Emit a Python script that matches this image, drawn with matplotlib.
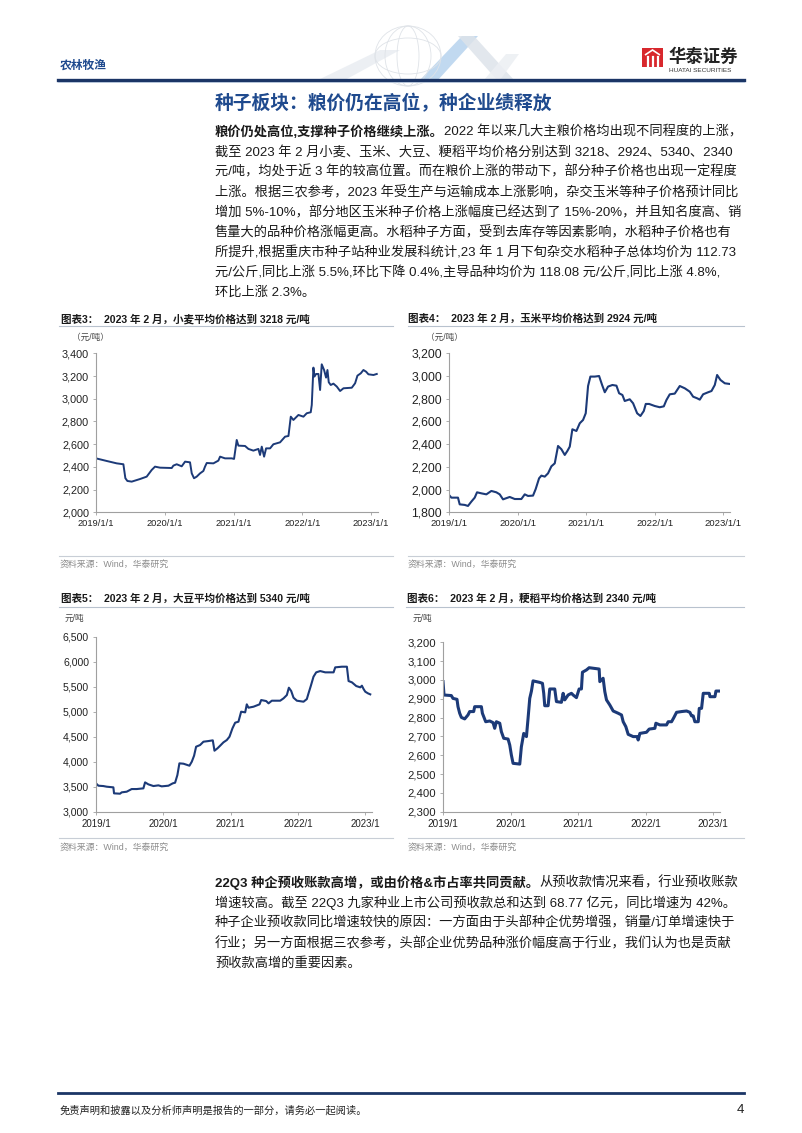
import matplotlib
matplotlib.use('Agg')
import matplotlib.pyplot as plt
from matplotlib.patches import Rectangle, Polygon, Ellipse
from matplotlib.lines import Line2D
from matplotlib.ticker import FuncFormatter

# ---------------- data ----------------
years = [2019, 2020, 2021, 2022, 2023]
xlabels_full = ['2019/1/1', '2020/1/1', '2021/1/1', '2022/1/1', '2023/1/1']
xlabels_short = ['2019/1', '2020/1', '2021/1', '2022/1', '2023/1']

wheat_t = [2019.000, 2019.155, 2019.301, 2019.398, 2019.427, 2019.456, 2019.519, 2019.640, 2019.737,
           2019.810, 2019.858, 2019.931, 2020.101, 2020.125, 2020.173, 2020.246, 2020.295, 2020.367,
           2020.392, 2020.425, 2020.464, 2020.513, 2020.561, 2020.585, 2020.610, 2020.707, 2020.779,
           2020.804, 2020.876, 2020.973, 2021.007, 2021.036, 2021.046, 2021.070, 2021.167, 2021.216,
           2021.288, 2021.361, 2021.385, 2021.410, 2021.444, 2021.473, 2021.531, 2021.579, 2021.676,
           2021.749, 2021.798, 2021.832, 2021.870, 2021.943, 2022.016, 2022.064, 2022.122, 2022.137,
           2022.161, 2022.176, 2022.200, 2022.234, 2022.258, 2022.282, 2022.316, 2022.345, 2022.365,
           2022.384, 2022.413, 2022.452, 2022.501, 2022.549, 2022.598, 2022.719, 2022.767, 2022.801,
           2022.850, 2022.888, 2022.927, 2022.961, 2023.034, 2023.082]
wheat_v = [2475, 2452, 2431, 2423, 2300, 2276, 2270, 2293, 2314,
           2373, 2402, 2393, 2390, 2411, 2423, 2405, 2446, 2440,
           2343, 2300, 2314, 2343, 2364, 2402, 2434, 2431, 2455,
           2490, 2475, 2475, 2470, 2593, 2637, 2587, 2584, 2558,
           2543, 2558, 2505, 2578, 2490, 2563, 2563, 2599, 2616,
           2666, 2672, 2842, 2813, 2857, 2842, 2872, 2881, 2945,
           3274, 3195, 3218, 3218, 3077, 3303, 3253, 3186, 3253,
           3145, 3121, 3133, 3107, 3068, 3092, 3097, 3136, 3203,
           3224, 3253, 3238, 3215, 3209, 3218]

corn_t = [2019.000, 2019.034, 2019.131, 2019.156, 2019.229, 2019.277, 2019.326, 2019.375, 2019.409,
          2019.472, 2019.545, 2019.618, 2019.691, 2019.740, 2019.788, 2019.886, 2019.959, 2020.056,
          2020.105, 2020.153, 2020.226, 2020.265, 2020.314, 2020.348, 2020.397, 2020.445, 2020.494,
          2020.543, 2020.591, 2020.640, 2020.689, 2020.727, 2020.762, 2020.800, 2020.859, 2020.908,
          2020.956, 2020.995, 2021.029, 2021.063, 2021.127, 2021.190, 2021.234, 2021.273, 2021.321,
          2021.384, 2021.443, 2021.482, 2021.530, 2021.564, 2021.637, 2021.686, 2021.745, 2021.793,
          2021.842, 2021.871, 2021.920, 2022.002, 2022.075, 2022.134, 2022.173, 2022.221, 2022.294,
          2022.367, 2022.440, 2022.513, 2022.562, 2022.620, 2022.659, 2022.708, 2022.781, 2022.830,
          2022.878, 2022.912, 2022.961, 2023.024, 2023.097]
corn_v = [1953, 1929, 1929, 1870, 1865, 1856, 1894, 1929, 1976,
          1967, 1958, 1988, 1976, 1958, 1914, 1935, 1917, 1917,
          1958, 1944, 1947, 2005, 2099, 2123, 2114, 2143, 2205,
          2231, 2384, 2355, 2305, 2340, 2378, 2531, 2516, 2584,
          2613, 2672, 2912, 2995, 2995, 3000, 2921, 2857, 2907,
          2921, 2915, 2848, 2833, 2780, 2795, 2760, 2672, 2648,
          2692, 2754, 2754, 2736, 2725, 2733, 2789, 2839, 2845,
          2912, 2892, 2862, 2818, 2804, 2792, 2839, 2857, 2868,
          2921, 3009, 2965, 2936, 2930]

soy_t = [2019.000, 2019.035, 2019.109, 2019.159, 2019.258, 2019.268, 2019.357, 2019.382, 2019.456,
         2019.530, 2019.605, 2019.704, 2019.729, 2019.778, 2019.853, 2019.927, 2019.976, 2020.076,
         2020.140, 2020.175, 2020.209, 2020.239, 2020.299, 2020.388, 2020.423, 2020.457, 2020.487,
         2020.546, 2020.596, 2020.670, 2020.735, 2020.760, 2020.804, 2020.844, 2020.893, 2020.943,
         2020.983, 2021.027, 2021.067, 2021.116, 2021.156, 2021.216, 2021.240, 2021.265, 2021.340,
         2021.429, 2021.454, 2021.528, 2021.563, 2021.612, 2021.736, 2021.786, 2021.835, 2021.865,
         2021.900, 2021.934, 2021.984, 2022.083, 2022.132, 2022.157, 2022.192, 2022.231, 2022.271,
         2022.331, 2022.405, 2022.529, 2022.554, 2022.653, 2022.727, 2022.752, 2022.802, 2022.866,
         2022.926, 2022.950, 2022.975, 2023.000, 2023.040, 2023.074]
soy_v = [3567, 3520, 3513, 3500, 3487, 3367, 3360, 3387, 3400,
         3453, 3453, 3467, 3587, 3547, 3513, 3527, 3507, 3520,
         3567, 3580, 3733, 3967, 3960, 3920, 4000, 4120, 4300,
         4333, 4400, 4413, 4427, 4220, 4267, 4320, 4387, 4433,
         4500, 4667, 4780, 4800, 5000, 4987, 5147, 5080, 5100,
         5147, 5233, 5213, 5167, 5220, 5220, 5267, 5333, 5480,
         5413, 5280, 5220, 5200, 5253, 5367, 5520, 5700, 5787,
         5813, 5787, 5787, 5887, 5900, 5900, 5613, 5587, 5513,
         5487, 5520, 5453, 5400, 5367, 5347]

rice_t = [2019.000, 2019.015, 2019.123, 2019.148, 2019.207, 2019.222, 2019.247, 2019.272, 2019.321,
          2019.370, 2019.395, 2019.454, 2019.469, 2019.568, 2019.583, 2019.632, 2019.691, 2019.741,
          2019.765, 2019.790, 2019.840, 2019.864, 2019.899, 2019.963, 2019.988, 2020.012, 2020.037,
          2020.136, 2020.160, 2020.195, 2020.235, 2020.259, 2020.284, 2020.309, 2020.333, 2020.432,
          2020.472, 2020.491, 2020.506, 2020.556, 2020.580, 2020.654, 2020.679, 2020.753, 2020.778,
          2020.802, 2020.852, 2020.901, 2020.926, 2020.975, 2021.015, 2021.049, 2021.064, 2021.123,
          2021.163, 2021.311, 2021.321, 2021.370, 2021.395, 2021.420, 2021.469, 2021.519, 2021.593,
          2021.642, 2021.667, 2021.706, 2021.741, 2021.815, 2021.874, 2021.889, 2021.914, 2022.012,
          2022.052, 2022.136, 2022.151, 2022.210, 2022.309, 2022.333, 2022.383, 2022.417, 2022.457,
          2022.531, 2022.605, 2022.654, 2022.679, 2022.704, 2022.728, 2022.778, 2022.793, 2022.827,
          2022.852, 2022.941, 2022.951, 2023.025, 2023.040, 2023.099]
rice_v = [2991, 2920, 2917, 2902, 2897, 2858, 2823, 2801, 2793,
          2814, 2832, 2832, 2858, 2858, 2823, 2778, 2782, 2773,
          2743, 2778, 2770, 2725, 2690, 2686, 2654, 2601, 2557,
          2553, 2645, 2716, 2699, 2796, 2902, 2941, 2995, 2987,
          2982, 2929, 2863, 2863, 2952, 2952, 2885, 2881, 2929,
          2894, 2920, 2929, 2920, 2906, 2952, 2952, 3041, 3053,
          3065, 3058, 2991, 3009, 2938, 2894, 2867, 2835, 2823,
          2814, 2778, 2752, 2711, 2699, 2699, 2681, 2716, 2722,
          2739, 2743, 2770, 2761, 2761, 2778, 2778, 2800, 2828,
          2832, 2835, 2828, 2809, 2809, 2778, 2778, 2849, 2849,
          2929, 2929, 2911, 2911, 2941, 2941]

wheat_yticks = [2000, 2200, 2400, 2600, 2800, 3000, 3200, 3400]
corn_yticks = [1800, 2000, 2200, 2400, 2600, 2800, 3000, 3200]
soy_yticks = [3000, 3500, 4000, 4500, 5000, 5500, 6000, 6500]
rice_yticks = [2300, 2400, 2500, 2600, 2700, 2800, 2900, 3000, 3100, 3200]

chart_titles = ['图表3：  2023 年 2 月，小麦平均价格达到 3218 元/吨',
                '图表4：  2023 年 2 月，玉米平均价格达到 2924 元/吨',
                '图表5：  2023 年 2 月，大豆平均价格达到 5340 元/吨',
                '图表6：  2023 年 2 月，粳稻平均价格达到 2340 元/吨']
unit_labels = ['（元/吨）', '（元/吨）', '元/吨', '元/吨']
source_text = '资料来源：Wind，华泰研究'

para1_bold = '粮价仍处高位,支撑种子价格继续上涨。'
para1_lines = [
    '2022 年以来几大主粮价格均出现不同程度的上涨，',
    '截至 2023 年 2 月小麦、玉米、大豆、粳稻平均价格分别达到 3218、2924、5340、2340',
    '元/吨，均处于近 3 年的较高位置。而在粮价上涨的带动下，部分种子价格也出现一定程度',
    '上涨。根据三农参考，2023 年受生产与运输成本上涨影响，杂交玉米等种子价格预计同比',
    '增加 5%-10%，部分地区玉米种子价格上涨幅度已经达到了 15%-20%，并且知名度高、销',
    '售量大的品种价格涨幅更高。水稻种子方面，受到去库存等因素影响，水稻种子价格也有',
    '所提升,根据重庆市种子站种业发展科统计,23 年 1 月下旬杂交水稻种子总体均价为 112.73',
    '元/公斤,同比上涨 5.5%,环比下降 0.4%,主导品种均价为 118.08 元/公斤,同比上涨 4.8%,',
    '环比上涨 2.3%。',
]
para2_bold = '22Q3 种企预收账款高增，或由价格&市占率共同贡献。'
para2_lines = [
    '从预收款情况来看，行业预收账款',
    '增速较高。截至 22Q3 九家种业上市公司预收款总和达到 68.77 亿元，同比增速为 42%。',
    '种子企业预收款同比增速较快的原因：一方面由于头部种企优势增强，销量/订单增速快于',
    '行业；另一方面根据三农参考，头部企业优势品种涨价幅度高于行业，我们认为也是贡献',
    '预收款高增的重要因素。',
]

# ---------------- figure ----------------
W, H = 802, 1133
plt.rcParams['font.family'] = ['Liberation Sans', 'Noto Sans CJK SC', 'DejaVu Sans']
fig = plt.figure(figsize=(W / 100, H / 100), dpi=100)
fig.patch.set_facecolor('white')

BLUE = '#1f4a8e'
NAVY = '#1b3566'
LINE = '#1c3a78'
TXT = '#1a1a1a'
GRAY = '#8c8c8c'


def fx(x):
    return x / W


def fy(y):
    return 1 - y / H


def hline(x0, x1, y, color, lw):
    fig.add_artist(Line2D([fx(x0), fx(x1)], [fy(y), fy(y)], color=color, lw=lw,
                          transform=fig.transFigure))


# header decoration (faint globe and chevrons)
deco = [
    ([(318, 80), (380, 50), (400, 50), (345, 80)], '#e9edf2'),
    ([(420, 80), (462, 36), (478, 36), (438, 80)], '#b7d3ee'),
    ([(458, 36), (474, 36), (514, 80), (497, 80)], '#dde3ea'),
    ([(484, 80), (506, 54), (519, 54), (500, 80)], '#eceff3'),
]
for pts, c in deco:
    fig.add_artist(Polygon([(fx(a), fy(b)) for a, b in pts], closed=True, facecolor=c,
                           edgecolor='none', alpha=0.85, transform=fig.transFigure))
for w_, h_ in [(66, 60), (46, 60), (22, 60), (66, 36)]:
    fig.add_artist(Ellipse((fx(408), fy(56)), w_ / W, h_ / H, facecolor='none', edgecolor='#dfe3e8',
                           lw=0.6, transform=fig.transFigure))

fig.text(fx(60), fy(66), '农林牧渔', fontsize=8.5, fontweight='bold', color=BLUE, va='center', ha='left')

# logo
fig.add_artist(Rectangle((fx(642), fy(67)), 21 / W, 19 / H, facecolor='#d8282d', edgecolor='none',
                         transform=fig.transFigure))
for xs in [646, 651, 656]:
    fig.add_artist(Line2D([fx(xs + 1.5), fx(xs + 1.5)], [fy(66), fy(57)], color='white', lw=1.6,
                          transform=fig.transFigure))
fig.add_artist(Polygon([(fx(645), fy(55)), (fx(652.5), fy(50)), (fx(660), fy(55))], closed=False,
                       facecolor='none', edgecolor='white', lw=1.2, transform=fig.transFigure))
fig.text(fx(668), fy(56), '华泰证券', fontsize=12.5, fontweight='bold', color='#222222', va='center', ha='left')
fig.text(fx(669), fy(71), 'HUATAI SECURITIES', fontsize=4.6, color='#333333', va='center', ha='left')

hline(58, 744, 80, NAVY, 2.4)
hline(58, 744, 82, '#aebfd6', 0.6)

# section title
fig.text(fx(215), fy(104), '种子板块：粮价仍在高位，种企业绩释放', fontsize=13.5, fontweight='bold',
         color=BLUE, va='center', ha='left')

renderer = fig.canvas.get_renderer()


def paragraph(x, y0, step, bold, lines, size):
    t = fig.text(fx(x), fy(y0), bold, fontsize=size, fontweight='bold', color=TXT, va='center', ha='left')
    w = t.get_window_extent(renderer=renderer).width
    fig.text(fx(x + w), fy(y0), lines[0], fontsize=size, color=TXT, va='center', ha='left')
    for i, ln in enumerate(lines[1:], start=1):
        fig.text(fx(x), fy(y0 + i * step), ln, fontsize=size, color=TXT, va='center', ha='left')


paragraph(215, 132, 20.1, para1_bold, para1_lines, 9.5)


# charts
def chart(left, right, top, bottom, t, v, yticks, xlabels, ysize, xsize, lw):
    ax = fig.add_axes([fx(left), fy(bottom), (right - left) / W, (bottom - top) / H])
    ax.plot(t, v, color=LINE, lw=lw, solid_joinstyle='round')
    ax.set_xlim(2019, 2023.1)
    ax.set_ylim(yticks[0], yticks[-1])
    ax.set_yticks(yticks)
    ax.yaxis.set_major_formatter(FuncFormatter(lambda y, p: f'{int(y):,}'))
    ax.set_xticks(years)
    ax.set_xticklabels(xlabels)
    for s in ['top', 'right']:
        ax.spines[s].set_visible(False)
    for s in ['left', 'bottom']:
        ax.spines[s].set_color('#a0a0a0')
        ax.spines[s].set_linewidth(0.8)
    ax.tick_params(axis='y', labelsize=ysize, length=2, width=0.6, color='#a0a0a0', pad=3,
                   labelcolor='#222222')
    ax.tick_params(axis='x', labelsize=xsize, length=2.5, width=0.6, color='#a0a0a0', pad=2.5,
                   labelcolor='#222222')
    ax.set_facecolor('none')
    return ax


# row 1
fig.text(fx(61), fy(319), chart_titles[0], fontsize=7.6, fontweight='bold', color=TXT, va='center', ha='left')
fig.text(fx(408), fy(319), chart_titles[1], fontsize=7.6, fontweight='bold', color=TXT, va='center', ha='left')
hline(59, 393, 326, '#b8c2ce', 0.8)
hline(408, 744, 326, '#b8c2ce', 0.8)
fig.text(fx(72), fy(337), unit_labels[0], fontsize=6.2, color='#444444', va='center', ha='left')
fig.text(fx(426), fy(337), unit_labels[1], fontsize=6.2, color='#444444', va='center', ha='left')

chart(96, 378, 353.3, 512.3, wheat_t, wheat_v, wheat_yticks, xlabels_full, 7.8, 6.7, 1.4)
chart(449, 730, 353.3, 512.3, corn_t, corn_v, corn_yticks, xlabels_full, 8.8, 6.8, 1.5)

hline(59, 393, 556, '#c8ced6', 0.8)
hline(408, 744, 556, '#c8ced6', 0.8)
fig.text(fx(60), fy(564), source_text, fontsize=6.4, color=GRAY, va='center', ha='left')
fig.text(fx(408), fy(564), source_text, fontsize=6.4, color=GRAY, va='center', ha='left')

# row 2
fig.text(fx(61), fy(599), chart_titles[2], fontsize=7.6, fontweight='bold', color=TXT, va='center', ha='left')
fig.text(fx(407), fy(599), chart_titles[3], fontsize=7.6, fontweight='bold', color=TXT, va='center', ha='left')
hline(59, 393, 607, '#b8c2ce', 0.8)
hline(406, 744, 607, '#b8c2ce', 0.8)
fig.text(fx(65), fy(618), unit_labels[2], fontsize=6.2, color='#444444', va='center', ha='left')
fig.text(fx(413), fy(618), unit_labels[3], fontsize=6.2, color='#444444', va='center', ha='left')

chart(96, 372, 636.7, 811.7, soy_t, soy_v, soy_yticks, xlabels_short, 7.6, 7.0, 1.5)
chart(443, 720, 642.3, 811.7, rice_t, rice_v, rice_yticks, xlabels_short, 8.2, 7.2, 2.2)

hline(59, 393, 838, '#c8ced6', 0.8)
hline(408, 744, 838, '#c8ced6', 0.8)
fig.text(fx(60), fy(847), source_text, fontsize=6.4, color=GRAY, va='center', ha='left')
fig.text(fx(408), fy(847), source_text, fontsize=6.4, color=GRAY, va='center', ha='left')

# paragraph 2
paragraph(215, 883, 20.1, para2_bold, para2_lines, 9.5)

# footer
hline(58, 744, 1093, NAVY, 2.0)
fig.text(fx(60), fy(1110), '免责声明和披露以及分析师声明是报告的一部分，请务必一起阅读。', fontsize=7.4,
         color='#222222', va='center', ha='left', style='italic')
fig.text(fx(744), fy(1110), '4', fontsize=9.5, color='#222222', va='center', ha='right')

fig.savefig('out.png', dpi=100, facecolor='white')
